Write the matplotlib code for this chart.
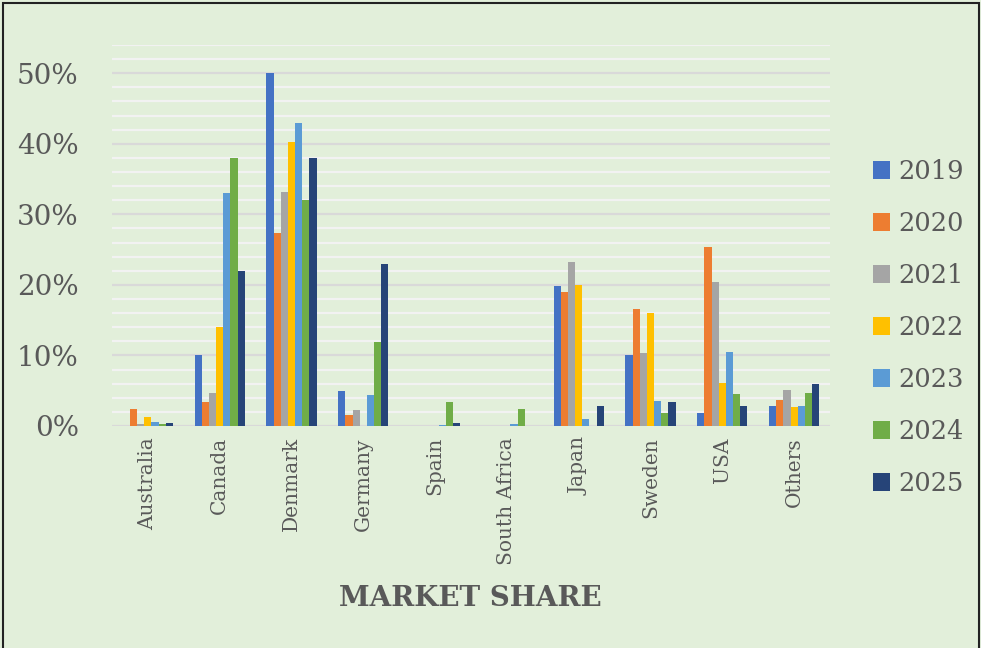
import matplotlib.pyplot as plt
import numpy as np
from matplotlib.ticker import MultipleLocator, PercentFormatter
from matplotlib.patches import Rectangle

# data (share)
countries = ['Australia', 'Canada', 'Denmark', 'Germany', 'Spain',
             'South Africa', 'Japan', 'Sweden', 'USA', 'Others']
years = ['2019', '2020', '2021', '2022', '2023', '2024', '2025']

s2019 = [0.000, 0.100, 0.500, 0.049, 0.000, 0.000, 0.199, 0.100, 0.019, 0.029]
s2020 = [0.024, 0.034, 0.274, 0.016, 0.000, 0.000, 0.190, 0.166, 0.253, 0.037]
s2021 = [0.003, 0.047, 0.332, 0.022, 0.000, 0.000, 0.232, 0.103, 0.204, 0.051]
s2022 = [0.013, 0.141, 0.403, 0.000, 0.000, 0.000, 0.200, 0.160, 0.061, 0.027]
s2023 = [0.005, 0.330, 0.429, 0.044, 0.0015, 0.003, 0.010, 0.036, 0.105, 0.028]
s2024 = [0.003, 0.380, 0.320, 0.119, 0.034, 0.024, 0.000, 0.0185, 0.046, 0.047]
s2025 = [0.004, 0.220, 0.380, 0.229, 0.004, 0.000, 0.029, 0.034, 0.029, 0.059]
series = [s2019, s2020, s2021, s2022, s2023, s2024, s2025]

colors = ['#4472C4', '#ED7D31', '#A5A5A5', '#FFC000', '#5B9BD5', '#70AD47', '#264478']
bg = '#E2EFDA'
txt = '#595959'

plt.rcParams['font.family'] = ['DejaVu Serif']

fig = plt.figure(figsize=(9.81, 6.48), dpi=100, facecolor=bg)
ax = fig.add_axes([112 / 981, 1 - 426 / 648, 718 / 981, 381 / 648])
ax.set_facecolor(bg)

x = np.arange(len(countries))
w = 0.1
for i, (yr, vals) in enumerate(zip(years, series)):
    ax.bar(x + (i - 3) * w, vals, width=w, color=colors[i], label=yr, zorder=3)

ax.set_xlim(-0.5, len(countries) - 0.5)
ax.set_ylim(0, 0.54)
ax.yaxis.set_major_locator(MultipleLocator(0.1))
ax.yaxis.set_minor_locator(MultipleLocator(0.02))
ax.yaxis.set_major_formatter(PercentFormatter(1.0, decimals=0))
ax.grid(which='minor', axis='y', color='#F2F2F2', lw=1.6, zorder=0)
ax.grid(which='major', axis='y', color='#D9D9D9', lw=1.6, zorder=1)
ax.set_axisbelow(True)
for sp in ax.spines.values():
    sp.set_visible(False)

ax.set_xticks(x)
ax.set_xticklabels(countries, rotation=90, fontsize=14.5, color=txt)
ax.tick_params(axis='x', length=0, pad=8)
ax.tick_params(axis='y', which='both', length=0, labelsize=20, labelcolor=txt, pad=24)

fig.text(470 / 981, 1 - 598 / 648, 'MARKET SHARE', ha='center', va='center',
         fontsize=20, fontweight='bold', color=txt)

fig.legend(loc='center left', bbox_to_anchor=(873 / 981, 1 - 327.5 / 648),
           frameon=False, fontsize=18.5, labelcolor=txt, borderpad=0, borderaxespad=0,
           handlelength=0.67, handleheight=0.67, handletextpad=0.3, labelspacing=1.05)

fig.patches.append(Rectangle((3 / 981, -0.01), 976 / 981, 1 - 3 / 648 + 0.01,
                             transform=fig.transFigure, fill=False,
                             edgecolor='#222222', lw=1.5))

fig.savefig('out.png', dpi=100, facecolor=bg)
